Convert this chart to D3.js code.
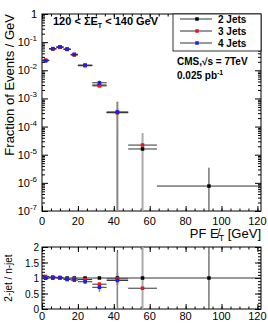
<!DOCTYPE html>
<html>
<head>
<meta charset="utf-8">
<script src="https://cdn.jsdelivr.net/npm/d3@7"></script>
<style>
body{margin:0;background:#fff;}
svg{font-family:"Liberation Sans",Arial,Helvetica,sans-serif;}
</style>
</head>
<body>
<div id="plot"></div>
<script>
// bins of PF missing ET
const binLo = [0,4,8,12,16,20,28,36,48,64];
const binHi = [4,8,12,16,20,28,36,48,64,122];
const binMid = [2,6,10,14,18,24,32,42,56,93];
// fraction of events / GeV
const jets2 = [0.022,0.058,0.066,0.055,0.036,0.015,0.0030,0.00032,0.000016,0.00000077];
const jets3 = [0.023,0.057,0.066,0.056,0.035,0.0145,0.0028,0.00031,0.000022,null];
const jets4 = [0.022,0.059,0.068,0.057,0.037,0.0152,0.0036,0.00033,null,null];
const err2 = [0.0008,0.0015,0.0015,0.0014,0.001,0.0005,0.0004,0.00012,0.000006,0.0000027];
const err3 = [0.001,0.002,0.002,0.002,0.0015,0.0007,0.0004,0.00044,0.000037,null];
const err4 = [0.001,0.002,0.002,0.002,0.0015,0.0008,0.0007,0.00044,null,null];
// ratio 2-jet / n-jet
const ratio2 = [1,1,1,1,1,1,1,1,1,1];
const ratio3 = [1.05,1.03,1.0,0.97,0.97,0.95,0.80,0.97,0.67,null];
const ratio4 = [1.0,1.02,1.02,0.95,0.93,0.88,0.70,0.92,null,null];
const rerr2 = [0,0,0,0,0,0,0,0.9,0.3,1.5];
const rerr3 = [0.05,0.04,0.04,0.04,0.04,0.05,0.05,0.2,1.5,null];
const rerr4 = [0.05,0.05,0.05,0.05,0.06,0.07,0.15,0.9,null,null];
const names = ["2 Jets","3 Jets","4 Jets"];
const colors = ["#000","#e8141e","#1f1fe8"];
const xTicks = [0,20,40,60,80,100,120];
const yDecades = [-7,-6,-5,-4,-3,-2,-1,0];
const rTicks = [0,0.5,1,1.5,2];

const W=268,H=324;
const xL=42,xR=261,yT=14,yB=211,rT=247,rB=309;
const svg = d3.select("#plot").append("svg").attr("width",W).attr("height",H);

const x = d3.scaleLinear().domain([0,122]).range([xL,xR]);
const y = d3.scaleLog().domain([1e-7,1]).range([yB,yT]);
const yr = d3.scaleLinear().domain([0,2]).range([rB,rT]);

const series = [
 {v:jets2,e:err2,r:ratio2,re:rerr2,c:colors[0],ec:"#333",ew:1},
 {v:jets3,e:err3,r:ratio3,re:rerr3,c:colors[1],ec:"#aaa",ew:2},
 {v:jets4,e:err4,r:ratio4,re:rerr4,c:colors[2],ec:"#888",ew:1.5}
];
const ms = 3.5;

function minorLog(){
  let m=[];
  for(let d=-7;d<0;d++){for(let k=2;k<10;k++){m.push(k*Math.pow(10,d));}}
  return m;
}
function drawFrame(top,bot,yscale,major,minor,majLen,labOff){
  // bottom/top x ticks
  svg.append("g").attr("transform","translate(0,"+bot+")")
    .call(d3.axisBottom(x).tickValues(xTicks).tickSize(-majLen).tickSizeOuter(0).tickFormat(""));
  svg.append("g").attr("transform","translate(0,"+bot+")")
    .call(d3.axisBottom(x).tickValues(d3.range(0,121,5)).tickSize(-majLen/2).tickSizeOuter(0).tickFormat(""));
  svg.append("g").attr("transform","translate(0,"+top+")")
    .call(d3.axisTop(x).tickValues(xTicks).tickSize(-majLen).tickSizeOuter(0).tickFormat(""));
  svg.append("g").attr("transform","translate(0,"+top+")")
    .call(d3.axisTop(x).tickValues(d3.range(0,121,5)).tickSize(-majLen/2).tickSizeOuter(0).tickFormat(""));
  // left/right y ticks
  svg.append("g").attr("transform","translate("+xL+",0)")
    .call(d3.axisLeft(yscale).tickValues(major).tickSize(-6).tickSizeOuter(0).tickFormat(""));
  svg.append("g").attr("transform","translate("+xL+",0)")
    .call(d3.axisLeft(yscale).tickValues(minor).tickSize(-3).tickSizeOuter(0).tickFormat(""));
  svg.append("g").attr("transform","translate("+xR+",0)")
    .call(d3.axisRight(yscale).tickValues(major).tickSize(-6).tickSizeOuter(0).tickFormat(""));
  svg.append("g").attr("transform","translate("+xR+",0)")
    .call(d3.axisRight(yscale).tickValues(minor).tickSize(-3).tickSizeOuter(0).tickFormat(""));
  svg.append("rect").attr("x",xL).attr("y",top).attr("width",xR-xL).attr("height",bot-top)
    .attr("fill","none").attr("stroke","#000").attr("stroke-width",1);
  // x labels
  svg.append("g").selectAll("text").data(xTicks).join("text")
    .attr("x",d=>x(d)).attr("y",bot+labOff).attr("text-anchor","middle")
    .attr("font-size",11).text(d=>d);
}

// upper pad
drawFrame(yT,yB,y,yDecades.map(d=>Math.pow(10,d)),minorLog(),5,14);
const yl = svg.append("g");
yDecades.forEach(function(d){
  const t = yl.append("text").attr("x",xL-5).attr("y",y(Math.pow(10,d))+4)
    .attr("text-anchor","end").attr("font-size",11);
  if(d===0){t.text("1");}
  else{
    t.append("tspan").text("10");
    t.append("tspan").attr("dy",-5).attr("font-size",8).text(d);
  }
});

// upper data
series.forEach(function(s){
  const g = svg.append("g");
  s.v.forEach(function(v,i){
    if(v===null) return;
    const lo = v-s.e[i], hi = v+s.e[i];
    g.append("line").attr("x1",x(binMid[i])).attr("x2",x(binMid[i]))
      .attr("y1",lo>1e-7?y(lo):yB).attr("y2",y(hi))
      .attr("stroke",s.ec).attr("stroke-width",s.ew);
    g.append("line").attr("x1",x(binLo[i])).attr("x2",x(binHi[i]))
      .attr("y1",y(v)).attr("y2",y(v)).attr("stroke","#333").attr("stroke-width",1);
  });
});
series.forEach(function(s){
  svg.append("g").selectAll("rect").data(s.v.map((v,i)=>[binMid[i],v]).filter(d=>d[1]!==null))
    .join("rect").attr("x",d=>x(d[0])-ms/2).attr("y",d=>y(d[1])-ms/2)
    .attr("width",ms).attr("height",ms).attr("fill",s.c);
});

// legend
const lg = svg.append("g");
lg.append("rect").attr("x",173).attr("y",yT).attr("width",xR-173).attr("height",37)
  .attr("fill","#fff").attr("stroke","#000").attr("stroke-width",0.8);
names.forEach(function(n,i){
  const ly = yT+5+i*12;
  lg.append("line").attr("x1",180).attr("x2",212).attr("y1",ly).attr("y2",ly).attr("stroke","#333");
  lg.append("rect").attr("x",197-ms/2).attr("y",ly-ms/2).attr("width",ms).attr("height",ms).attr("fill",colors[i]);
  lg.append("text").attr("x",218).attr("y",ly+4).attr("font-size",10).attr("font-weight","bold").text(n);
});

// labels
const t1 = svg.append("text").attr("x",53).attr("y",25).attr("font-size",11).attr("font-weight","bold");
t1.append("tspan").text("120 < ΣE");
t1.append("tspan").attr("dy",3).attr("font-size",7).text("T");
t1.append("tspan").attr("dy",-3).text(" < 140 GeV");
const t2 = svg.append("text").attr("x",177).attr("y",65).attr("font-size",10).attr("font-weight","bold");
t2.append("tspan").text("CMS,\u221As = 7TeV");
const t3 = svg.append("text").attr("x",177).attr("y",79).attr("font-size",10).attr("font-weight","bold");
t3.append("tspan").text("0.025 pb");
t3.append("tspan").attr("dy",-4).attr("font-size",7).text("-1");

const xt = svg.append("text").attr("x",xR).attr("y",238).attr("text-anchor","end").attr("font-size",13);
xt.append("tspan").text("PF E\u0338");
xt.append("tspan").attr("dy",3).attr("font-size",9).text("T");
xt.append("tspan").attr("dy",-3).text(" [GeV]");
svg.append("text").attr("transform","translate(14,"+yT+") rotate(-90)")
  .attr("text-anchor","end").attr("font-size",13).text("Fraction of Events / GeV");

// ratio pad
drawFrame(rT,rB,yr,rTicks,d3.range(0,2.01,0.1),5,11);
svg.append("g").selectAll("text.rl").data(rTicks).join("text")
  .attr("x",xL-3).attr("y",d=>yr(d)+4).attr("text-anchor","end").attr("font-size",10).text(d=>d);
svg.append("text").attr("transform","translate(12,"+(rT+(rB-rT)/2)+") rotate(-90)")
  .attr("text-anchor","middle").attr("font-size",10).text("2-jet / n-jet");

series.forEach(function(s){
  const g = svg.append("g");
  s.r.forEach(function(v,i){
    if(v===null) return;
    if(s.re[i]>0){
      g.append("line").attr("x1",x(binMid[i])).attr("x2",x(binMid[i]))
        .attr("y1",yr(Math.max(0,v-s.re[i]))).attr("y2",yr(Math.min(2,v+s.re[i])))
        .attr("stroke",s.ec).attr("stroke-width",s.ew);
    }
    g.append("line").attr("x1",x(binLo[i])).attr("x2",x(binHi[i]))
      .attr("y1",yr(v)).attr("y2",yr(v)).attr("stroke","#333").attr("stroke-width",1);
  });
});
series.forEach(function(s){
  svg.append("g").selectAll("rect").data(s.r.map((v,i)=>[binMid[i],v]).filter(d=>d[1]!==null))
    .join("rect").attr("x",d=>x(d[0])-ms/2).attr("y",d=>yr(d[1])-ms/2)
    .attr("width",ms).attr("height",ms).attr("fill",s.c);
});
svg.selectAll(".domain").remove();
</script>
</body>
</html>
